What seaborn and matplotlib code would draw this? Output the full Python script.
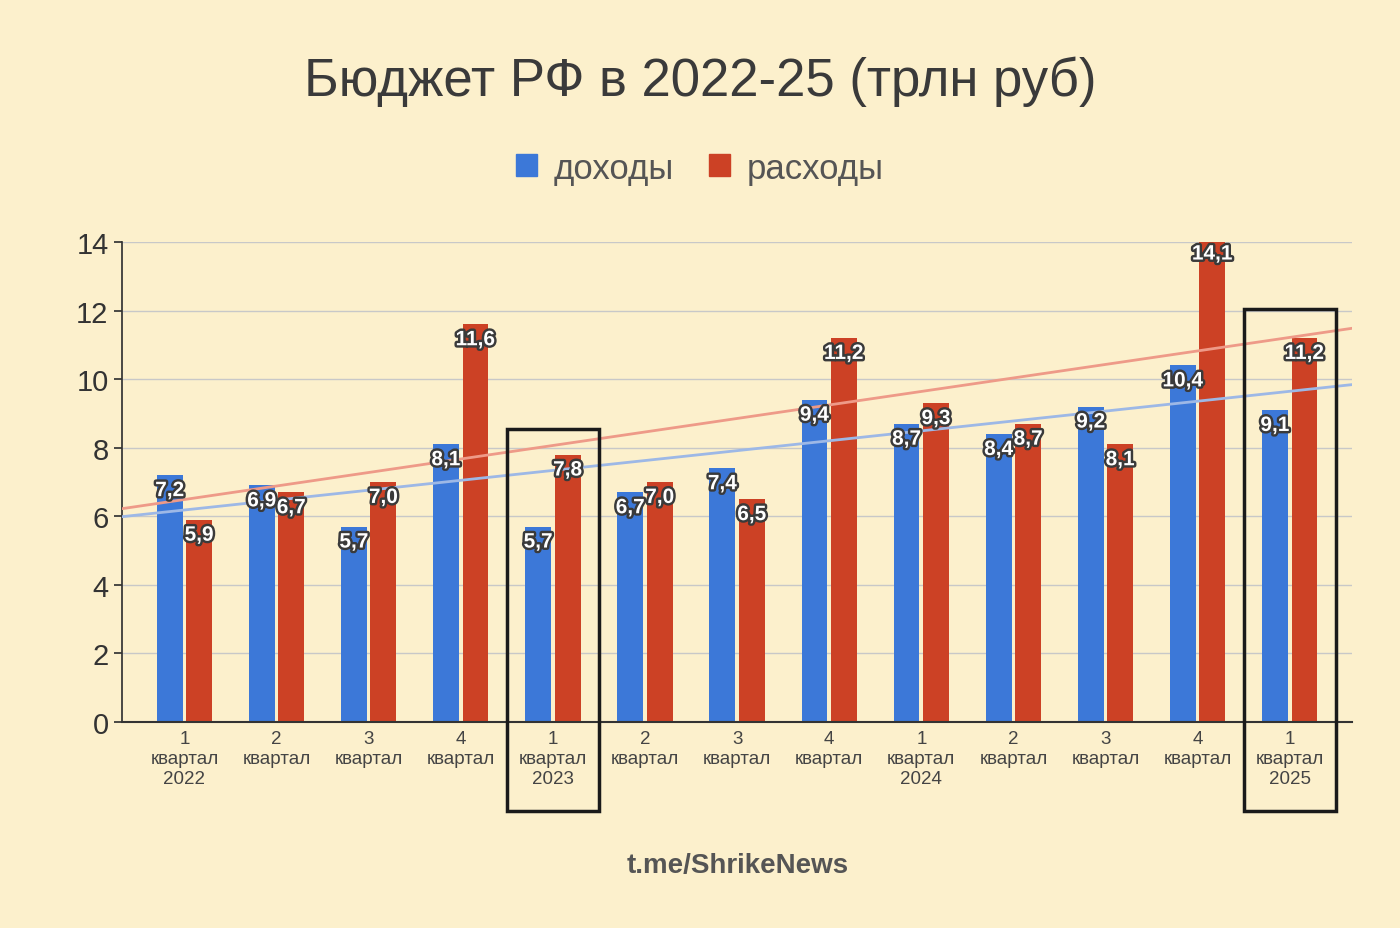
import numpy as np
import pandas as pd
import matplotlib
matplotlib.use("Agg")
import matplotlib.pyplot as plt
import matplotlib.patheffects as pe
from matplotlib.patches import Rectangle, Patch
import seaborn as sns

quarters = ["1\nквартал\n2022", "2\nквартал", "3\nквартал", "4\nквартал",
            "1\nквартал\n2023", "2\nквартал", "3\nквартал", "4\nквартал",
            "1\nквартал\n2024", "2\nквартал", "3\nквартал", "4\nквартал",
            "1\nквартал\n2025"]
income = [7.2, 6.9, 5.7, 8.1, 5.7, 6.7, 7.4, 9.4, 8.7, 8.4, 9.2, 10.4, 9.1]
spend = [5.9, 6.7, 7.0, 11.6, 7.8, 7.0, 6.5, 11.2, 9.3, 8.7, 8.1, 14.1, 11.2]
series = ["доходы", "расходы"]
colors = ["#3C78D8", "#CC4125"]
bg = "#FCF0CC"

sns.set_theme(style="white")
plt.rcParams['font.family'] = ['Liberation Sans', 'DejaVu Sans']

pos = list(range(len(quarters)))
df = pd.DataFrame({"pos": pos * 2, "val": income + spend,
                   "s": [series[0]] * len(pos) + [series[1]] * len(pos)})

fig = plt.figure(figsize=(14, 9.29), dpi=100, facecolor=bg)
ax = fig.add_axes([0.087, 0.2217, 0.879, 0.5167])
ax.set_facecolor(bg)
sns.barplot(data=df, x="pos", y="val", hue="s", palette=colors, width=0.64,
            saturation=1, linewidth=0, ax=ax, legend=False)

# narrow bars with a small gap, like the reference
for cont, off in zip(ax.containers, [-0.16, 0.16]):
    for i, bar in enumerate(cont):
        bar.set_width(0.28)
        bar.set_x(i + off - 0.14)
        bar.set_linewidth(0)

x = np.array(pos, dtype=float)
xx = np.array([-0.68, len(pos) - 0.32])
for vals, c in [(income, "#9DB8E6"), (spend, "#EE9A88")]:
    k, b = np.polyfit(x, vals, 1)
    ax.plot(xx, k * xx + b, color=c, lw=2, zorder=3)

eff = [pe.withStroke(linewidth=3.5, foreground="#3a3a3a")]
for cont in ax.containers:
    for bar in cont:
        h = bar.get_height()
        ax.text(bar.get_x() + bar.get_width() / 2, h - 0.45, f"{h:.1f}".replace(".", ","),
                ha="center", va="center", color="white", fontsize=15, fontweight="bold",
                path_effects=eff, zorder=5)

ax.set_xlim(-0.68, len(pos) - 0.32)
ax.set_ylim(0, 14)
ax.set_yticks(range(0, 15, 2))
ax.yaxis.grid(True, color="#C8C8C8", lw=1)
ax.set_axisbelow(True)
ax.set_xticks(pos)
ax.set_xticklabels(quarters, fontsize=13.5, color="#444444", linespacing=1.2)
ax.tick_params(axis="y", labelsize=21, labelcolor="#333333", left=True, length=6, color="#333333")
ax.tick_params(axis="x", length=0, pad=6)
ax.set_xlabel("")
ax.set_ylabel("")
for s in ["top", "right"]:
    ax.spines[s].set_visible(False)
ax.spines["left"].set_color("#333333")
ax.spines["bottom"].set_color("#333333")
ax.spines["bottom"].set_linewidth(1.5)

tr = ax.get_xaxis_transform()
for i, top in [(4, 0.61), (12, 0.86)]:
    ax.add_patch(Rectangle((i - 0.5, -0.185), 1.0, top + 0.185, transform=tr,
                           fill=False, ec="#1a1a1a", lw=2.5, clip_on=False, zorder=6))

fig.text(0.5, 0.912, "Бюджет РФ в 2022-25 (трлн руб)", ha="center", va="center",
         fontsize=38, color="#3a3a3a")
handles = [Patch(color=c, label=l) for c, l in zip(colors, series)]
fig.legend(handles=handles, loc="center", bbox_to_anchor=(0.5, 0.818), ncol=2, frameon=False,
           fontsize=25, handlelength=0.6, handleheight=0.6, columnspacing=1.0, handletextpad=0.5,
           labelcolor="#555555")
fig.text(0.527, 0.068, "t.me/ShrikeNews", ha="center", va="center", fontsize=20,
         fontweight="bold", color="#555555")

fig.savefig("out.png", dpi=100, facecolor=bg)
